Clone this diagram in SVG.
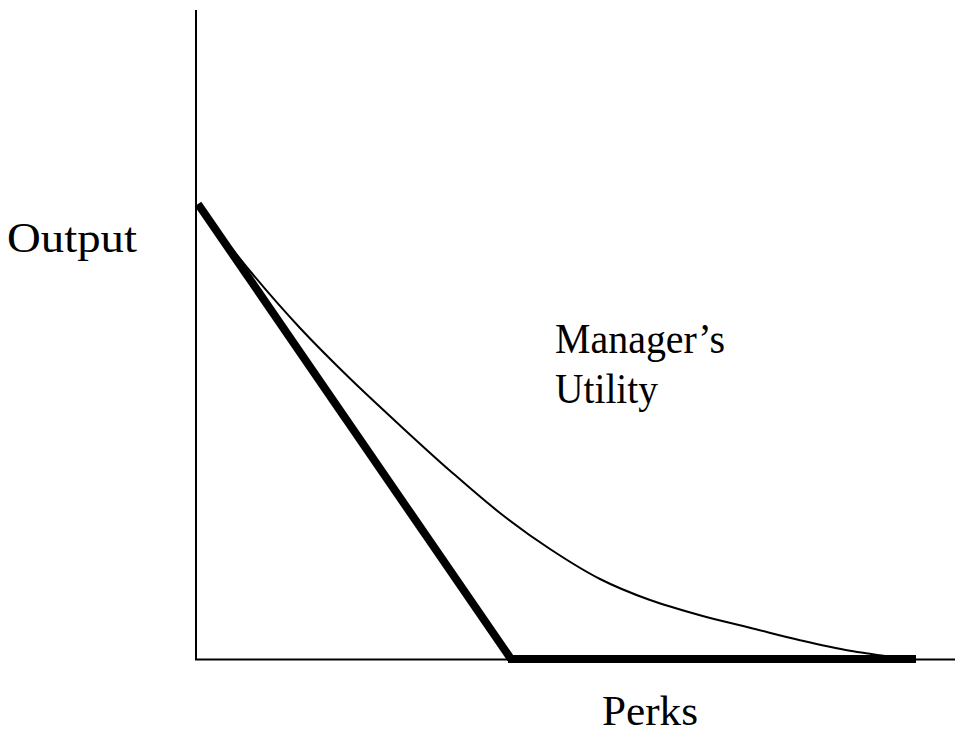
<svg xmlns="http://www.w3.org/2000/svg" width="955" height="735" viewBox="0 0 955 735">
  <style>
    .axis { stroke: #000; stroke-width: 2; fill: none; }
    .budget { stroke: #000; stroke-width: 8; fill: none; }
    .utility { stroke: #000; stroke-width: 2; fill: none; }
    .label { font-family: "Liberation Serif", "Times New Roman", serif; font-size: 43px; fill: #000; }
  </style>
  <rect width="955" height="735" fill="#fff"/>
  <g id="connectors">
    <!-- axes -->
    <line class="axis" x1="196" y1="10" x2="196" y2="660"/>
    <line class="axis" x1="195" y1="659.5" x2="955" y2="659.5"/>
    <!-- manager's utility curve -->
    <path class="utility" d="M198,205 C206.7,216 233,250.5 250,271 C267,291.5 283.3,310.1 300,328 C316.7,345.9 333.3,362.3 350,378.5 C366.7,394.7 383.3,410 400,425.4 C416.7,440.8 433.3,456.1 450,470.7 C466.7,485.3 483.3,500 500,513 C516.7,526.1 533.3,538 550,549 C566.7,560 583.3,570.5 600,579 C616.7,587.5 633.3,594 650,600 C666.7,606 683.3,610.6 700,615.2 C716.7,619.8 733.3,623.6 750,627.8 C766.7,631.9 783.3,636.4 800,640.2 C816.7,644 833.3,647.8 850,650.8 C866.7,653.8 891.7,656.8 900,658"/>
    <!-- budget constraint -->
    <line class="budget" x1="198" y1="204" x2="511" y2="659"/>
    <line class="budget" x1="508" y1="659" x2="916" y2="659"/>
  </g>
  <g id="label-output">
    <text class="label" x="7" y="252" textLength="130" lengthAdjust="spacingAndGlyphs">Output</text>
  </g>
  <g id="label-utility">
    <text class="label" x="555" y="353" textLength="170" lengthAdjust="spacingAndGlyphs">Manager’s</text>
    <text class="label" x="555" y="403" textLength="103" lengthAdjust="spacingAndGlyphs">Utility</text>
  </g>
  <g id="label-perks">
    <text class="label" x="602" y="725" textLength="96" lengthAdjust="spacingAndGlyphs">Perks</text>
  </g>
</svg>
